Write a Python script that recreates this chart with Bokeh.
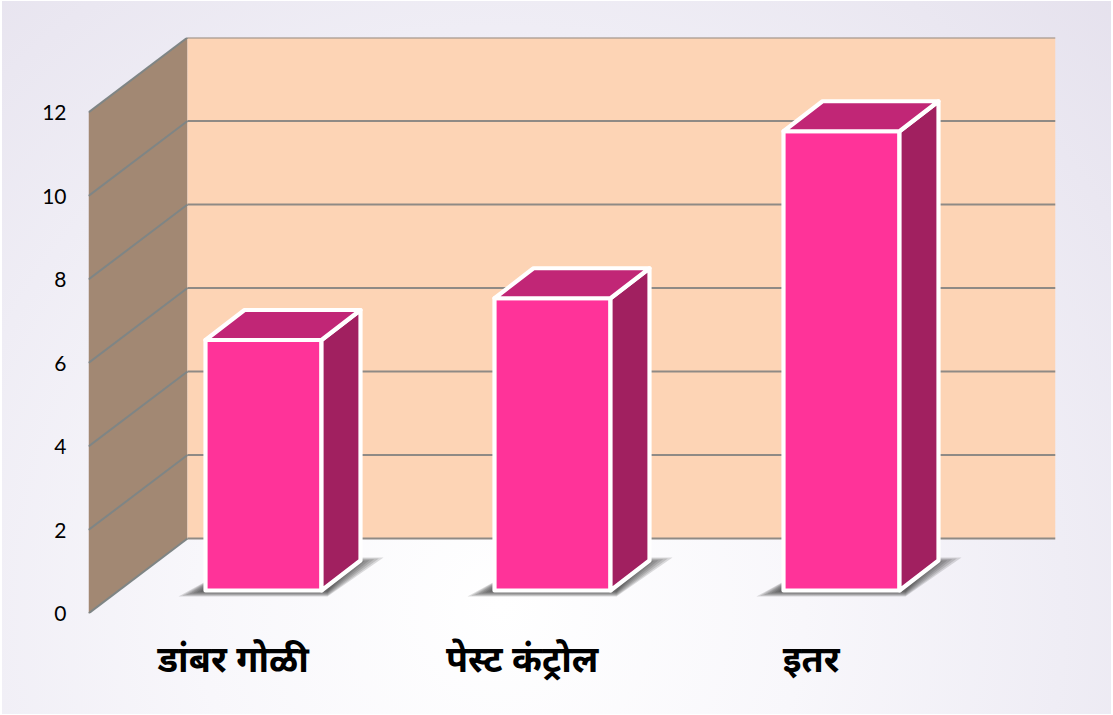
from bokeh.plotting import figure
from bokeh.embed import file_html
from bokeh.resources import INLINE
from bokeh.models import Range1d, FixedTicker, LinearAxis

categories = ["डांबर गोळी", "पेस्ट कंट्रोल", "इतर"]
values = [6, 7, 11]
y_ticks = [0, 2, 4, 6, 8, 10, 12]

FIG_W, FIG_H = 1109, 713
LEFT, RIGHT, TOP, BOTTOM = 86, 56, 36, 101
PX_X = 289.0     # pixels per category
PX_Y = 41.75     # pixels per unit
X0 = -175 / PX_X
X1 = X0 + (FIG_W - LEFT - RIGHT) / PX_X
Y1 = (FIG_H - TOP - BOTTOM) / PX_Y

WALL_DX, WALL_DY = 99 / PX_X, 75 / PX_Y
BAR_W = 116 / PX_X
BAR_DX, BAR_DY = 39 / PX_X, 30 / PX_Y
BAR_BASE = 23 / PX_Y
LABEL_SHIFT = 0.105

p = figure(width=FIG_W, height=FIG_H, output_backend="svg", toolbar_location=None,
           x_range=Range1d(X0, X1), y_range=Range1d(0, Y1),
           min_border_left=LEFT, min_border_right=RIGHT, min_border_top=TOP, min_border_bottom=BOTTOM,
           x_axis_type=None, y_axis_type=None, outline_line_color=None,
           background_fill_alpha=0, border_fill_alpha=0)
p.styles = {"position": "absolute", "left": "2px", "top": "1px",
            "background": "radial-gradient(ellipse 78% 125% at 45% 85%, #ffffff 0%, #f8f7fb 35%, "
                          "#efedf5 65%, #e5e1ed 100%)"}
p.grid.visible = False

# walls
p.patch([X0, X0 + WALL_DX, X0 + WALL_DX, X0],
        [0, WALL_DY, Y1, y_ticks[-1]], fill_color="#a28873", line_color=None)
p.patch([X0 + WALL_DX, X1, X1, X0 + WALL_DX],
        [WALL_DY, WALL_DY, Y1, Y1], fill_color="#fdd4b5", line_color=None)

# gridlines
for v in y_ticks:
    p.line([X0, X0 + WALL_DX], [v, v + WALL_DY], line_color="#7f8585", line_width=2)
    p.line([X0 + WALL_DX, X1], [v + WALL_DY, v + WALL_DY], line_color="#8f8a85", line_width=2)

# bars
for i, v in enumerate(values):
    L, R = i - BAR_W / 2, i + BAR_W / 2
    B, T = BAR_BASE, BAR_BASE + v
    # soft shadow on the floor
    for k in range(7):
        p.patch([L + (-27 + 3.6 * k) / PX_X, R + 6 / PX_X, R + (62 - 4.7 * k) / PX_X, R + 20 / PX_X, L + 20 / PX_X],
                [B + (-6 + 0.8 * k) / PX_Y, B + (-6 + 0.8 * k) / PX_Y, B + (33 - 0.9 * k) / PX_Y,
                 B + (33 - 0.9 * k) / PX_Y, B + 20 / PX_Y],
                fill_color="#2b2b2b", fill_alpha=0.16, line_color=None)
    p.patch([L, R, R, L], [B, B, T, T], fill_color="#ff3399",
            line_color="white", line_width=4.2, line_join="round")
    p.patch([R, R + BAR_DX, R + BAR_DX, R], [B, B + BAR_DY, T + BAR_DY, T], fill_color="#a12060",
            line_color="white", line_width=4.2, line_join="round")
    p.patch([L, R, R + BAR_DX, L + BAR_DX], [T, T, T + BAR_DY, T + BAR_DY], fill_color="#c12676",
            line_color="white", line_width=4.2, line_join="round")

# axes
yaxis = LinearAxis(ticker=FixedTicker(ticks=y_ticks))
yaxis.axis_line_color = None
yaxis.major_tick_line_color = None
yaxis.minor_tick_line_color = None
yaxis.major_label_standoff = 16
yaxis.major_label_text_font = "Lato"
yaxis.major_label_text_font_size = "21px"
yaxis.major_label_text_color = "#000000"
p.add_layout(yaxis, "left")

ticks = [i - LABEL_SHIFT for i in range(len(categories))]
xaxis = LinearAxis(ticker=FixedTicker(ticks=ticks))
xaxis.major_label_overrides = dict(zip(ticks, categories))
xaxis.axis_line_color = None
xaxis.major_tick_line_color = None
xaxis.minor_tick_line_color = None
xaxis.major_label_standoff = 14
xaxis.major_label_text_font = "Noto Sans"
xaxis.major_label_text_font_style = "bold"
xaxis.major_label_text_font_size = "36px"
xaxis.major_label_text_color = "#000000"
p.add_layout(xaxis, "below")

open("out.html", "w").write(file_html(p, INLINE))
